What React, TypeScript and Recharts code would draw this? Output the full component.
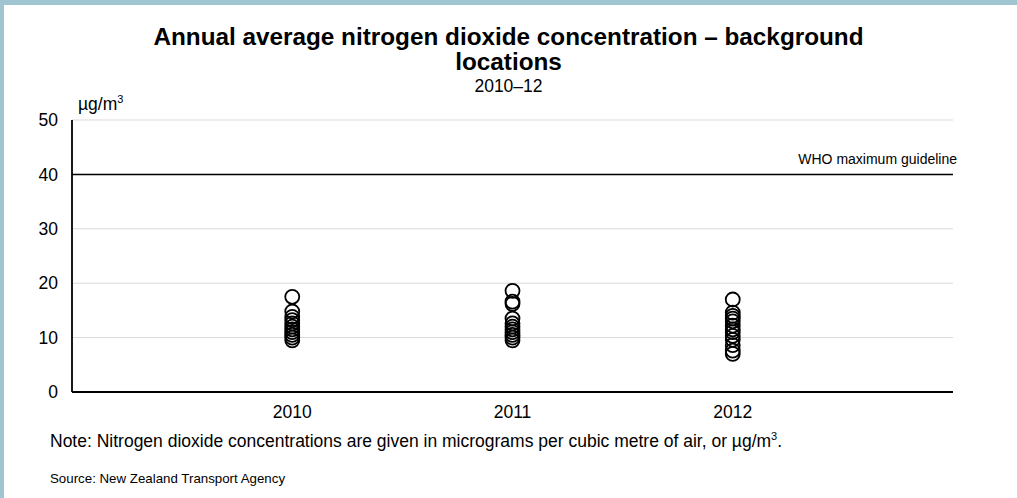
import React from "react";
import {
  ScatterChart,
  Scatter,
  XAxis,
  YAxis,
  CartesianGrid,
  ReferenceLine,
} from "recharts";

const years = [2010, 2011, 2012];
const values2010 = [17.5, 14.8, 13.8, 13.2, 12.6, 12.0, 11.5, 11.0, 10.5, 10.0, 9.5];
const values2011 = [18.6, 16.6, 16.2, 13.5, 12.6, 12.0, 11.5, 11.0, 10.5, 10.0, 9.5];
const values2012 = [17.0, 14.6, 14.0, 13.5, 13.0, 12.2, 11.5, 11.0, 10.3, 9.6, 8.6, 7.6, 7.0];
const yTicks = [0, 10, 20, 30, 40, 50];
const guideline = 40;

const seriesValues = [values2010, values2011, values2012];
const points = years.flatMap((year, i) =>
  seriesValues[i].map((v) => ({ year, value: v }))
);

const FONT = '"Liberation Sans", Arial, sans-serif';

const Ring = (props: any) => {
  const { cx, cy } = props;
  if (cx == null || cy == null) return null;
  return (
    <circle cx={cx} cy={cy} r={7} fill="none" stroke="#000" strokeWidth={1.8} />
  );
};

export default function App() {
  return (
    <div
      style={{
        position: "absolute",
        left: 0,
        top: 0,
        width: 1017,
        height: 498,
        background: "#fff",
        fontFamily: FONT,
        color: "#000",
        overflow: "hidden",
      }}
    >
      <div style={{ position: "absolute", left: 0, top: 0, width: 1017, height: 5, background: "#9fc5d0" }} />
      <div style={{ position: "absolute", left: 0, top: 0, width: 4, height: 498, background: "#9fc5d0" }} />

      <div
        style={{
          position: "absolute",
          left: 0,
          width: 1017,
          top: 24,
          textAlign: "center",
          fontWeight: "bold",
          fontSize: 24.3,
          lineHeight: "25px",
        }}
      >
        Annual average nitrogen dioxide concentration – background
        <br />
        locations
      </div>
      <div
        style={{
          position: "absolute",
          left: 0,
          width: 1017,
          top: 76,
          textAlign: "center",
          fontSize: 17.5,
          lineHeight: "20px",
        }}
      >
        2010–12
      </div>
      <div style={{ position: "absolute", left: 78, top: 94, fontSize: 17.5, lineHeight: "20px", whiteSpace: "nowrap" }}>
        µg/m<sup style={{ fontSize: 11, verticalAlign: "7px", lineHeight: 0 }}>3</sup>
      </div>

      <div style={{ position: "absolute", left: 0, top: 0 }}>
        <ScatterChart
          width={1017}
          height={498}
          margin={{ top: 120, right: 64, bottom: 76, left: 0 }}
        >
          <CartesianGrid vertical={false} stroke="#d9d9d9" strokeWidth={1} />
          <XAxis
            type="number"
            dataKey="year"
            domain={[2009, 2013]}
            ticks={years}
            tickFormatter={(v) => String(v)}
            axisLine={{ stroke: "#000", strokeWidth: 1.8 }}
            tickLine={false}
            tickSize={0}
            tickMargin={14}
            height={30}
            tick={{ fill: "#000", fontSize: 17.5, fontFamily: FONT }}
          />
          <YAxis
            type="number"
            dataKey="value"
            domain={[0, 50]}
            ticks={yTicks}
            axisLine={{ stroke: "#000", strokeWidth: 1.8 }}
            tickLine={false}
            tickSize={0}
            tickMargin={14}
            width={72}
            tick={{ fill: "#000", fontSize: 17.5, fontFamily: FONT }}
          />
          <ReferenceLine
            y={guideline}
            stroke="#000"
            strokeWidth={1.5}
            segment={[
              { x: 2009, y: guideline },
              { x: 2013.03, y: guideline },
            ]}
            ifOverflow="visible"
          />
          <Scatter
            data={points}
            shape={<Ring />}
            isAnimationActive={false}
          />
        </ScatterChart>
      </div>

      <div style={{ position: "absolute", left: 957 - 300, width: 300, top: 150, textAlign: "right", fontSize: 14, lineHeight: "18px" }}>
        WHO maximum guideline
      </div>

      <div style={{ position: "absolute", left: 50, top: 431, fontSize: 17.5, lineHeight: "20px", whiteSpace: "nowrap" }}>
        Note: Nitrogen dioxide concentrations are given in micrograms per cubic metre of air, or µg/m
        <sup style={{ fontSize: 11, verticalAlign: "7px", lineHeight: 0 }}>3</sup>.
      </div>
      <div style={{ position: "absolute", left: 50, top: 470, fontSize: 13.3, lineHeight: "18px", whiteSpace: "nowrap" }}>
        Source: New Zealand Transport Agency
      </div>
    </div>
  );
}
